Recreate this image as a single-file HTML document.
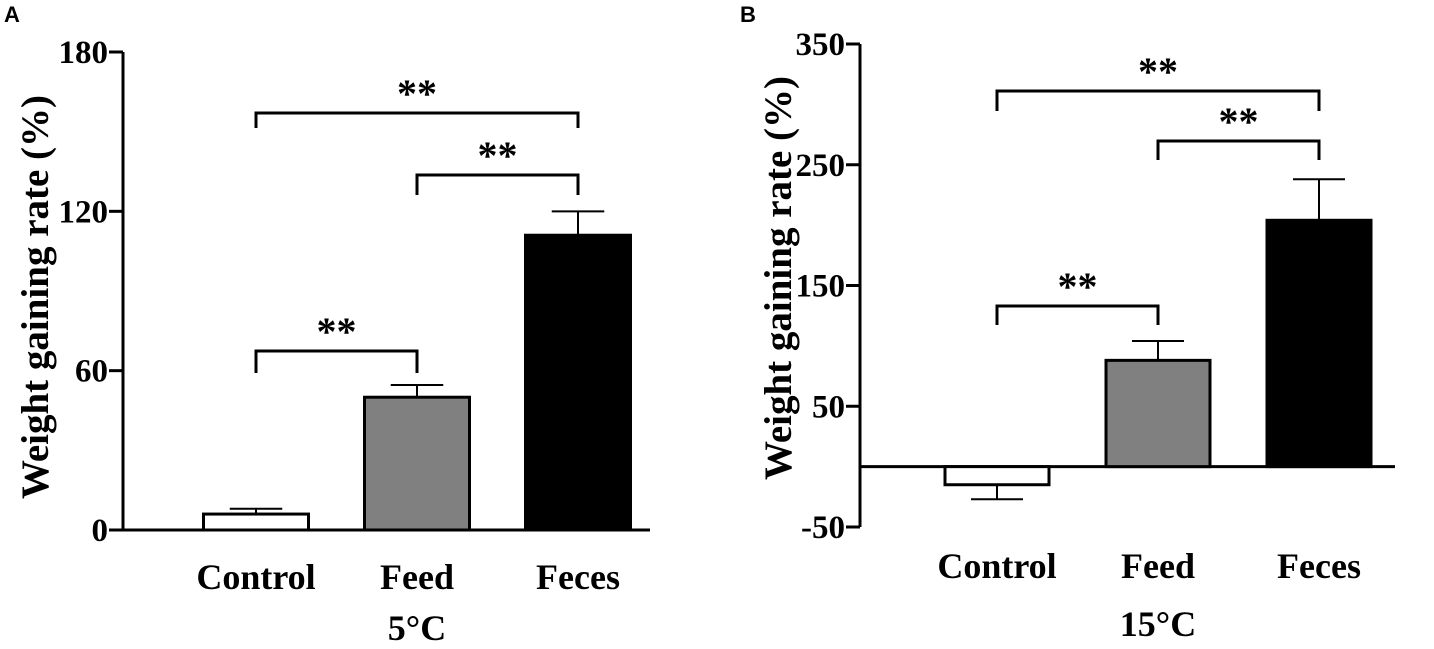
<!DOCTYPE html>
<html><head><meta charset="utf-8"><style>
body{margin:0;background:#fff}
svg text{font-family:"Liberation Serif",serif;font-weight:bold;fill:#000}
</style></head><body>
<svg id="c" width="1434" height="644" xmlns="http://www.w3.org/2000/svg">
<text x="4" y="22" style="font-family:'Liberation Sans',sans-serif;font-size:22px">A</text>
<text x="740" y="22" style="font-family:'Liberation Sans',sans-serif;font-size:22px">B</text>
<g id="pa"></g>
<g id="pb"></g>
</svg>
<script>
const categories=["Control","Feed","Feces"];
const valuesA=[6,50,111];
const errorsA=[2,4.6,9];
const ticksA=[0,60,120,180];
const valuesB=[-15,88,204];
const errorsB=[-12,16,34];
const ticksB=[-50,50,150,250,350];
const fills=["#fff","#808080","#000"];
const NS="http://www.w3.org/2000/svg";
function mk(p,t,a){const e=document.createElementNS(NS,t);for(const k in a)e.setAttribute(k,a[k]);p.appendChild(e);return e;}
function panel(g,o){
  const y=v=>o.y0+(v-o.min)*(o.y1-o.y0)/(o.max-o.min);
  const zero=y(0);
  let ax=mk(g,"line",{x1:o.ax,x2:o.ax,y1:y(o.max),y2:y(o.min),stroke:"#000","stroke-width":3});
  
  
  o.ticks.forEach(t=>{
    let l=mk(g,"line",{x1:o.ax-14,x2:o.ax,y1:y(t),y2:y(t),stroke:"#000","stroke-width":3});
    
    
    let tx=mk(g,"text",{x:o.ax-15,y:y(t)+11,"text-anchor":"end","font-size":"33"});
    tx.textContent=t;
    
    
  });
  let xl=mk(g,"line",{x1:o.ax,x2:o.xend,y1:zero,y2:zero,stroke:"#000","stroke-width":3});
  
  
  const cx=[];
  o.vals.forEach((v,i)=>{
    const c=o.c0+i*o.step;cx.push(c);
    const top=Math.min(y(v),zero),h=Math.abs(y(v)-zero);
    let r=mk(g,"rect",{x:c-o.bw/2,y:top,width:o.bw,height:h,fill:fills[i],stroke:"#000","stroke-width":3});
    
    
    const ev=y(v+o.errs[i]);
    let e=mk(g,"path",{d:`M${c},${y(v)}V${ev}M${c-o.bw/4},${ev}H${c+o.bw/4}`,stroke:"#000","stroke-width":2,fill:"none"});
    
    
    let t=mk(g,"text",{x:c,y:o.labY,"text-anchor":"middle","font-size":"36"});
    t.textContent=categories[i];
    
    
  });
  o.brackets.forEach(b=>{
    const x1=cx[b[0]],x2=cx[b[1]];
    let p=mk(g,"path",{d:`M${x1},${b[2]+b[3]}V${b[2]}H${x2}V${b[2]+b[3]}`,stroke:"#000","stroke-width":3,fill:"none"});
    
    
    let s=mk(g,"text",{x:(x1+x2)/2,y:b[2]-6,"text-anchor":"middle","font-size":"40"});
    s.textContent="**";
    
    
  });
  let yt=mk(g,"text",{x:0,y:0,"text-anchor":"middle","font-size":"39",transform:`translate(${o.ytx},${o.ytc}) rotate(-90)`});
  yt.textContent="Weight gaining rate (%)";
  
  
  let xt=mk(g,"text",{x:(cx[0]+cx[2])/2,y:o.xtY,"text-anchor":"middle","font-size":"36"});
  xt.textContent=o.xt;
  
  
}
panel(document.getElementById("pa"),{vals:valuesA,errs:errorsA,ticks:ticksA,min:0,max:180,y0:530,y1:52,ax:123,xend:650,c0:256,step:161,bw:105,labY:589,xtY:640,xt:"5°C",ytx:48,ytc:297,
 brackets:[[0,2,113,15],[1,2,175,20],[0,1,351,22]]});
panel(document.getElementById("pb"),{vals:valuesB,errs:errorsB,ticks:ticksB,min:-50,max:350,y0:527,y1:44,ax:860,xend:1395,c0:997,step:161,bw:104,labY:578,xtY:636,xt:"15°C",ytx:791,ytc:278,
 brackets:[[0,2,91,20],[1,2,141,19],[0,1,306,19]]});
</script>
</body></html>
